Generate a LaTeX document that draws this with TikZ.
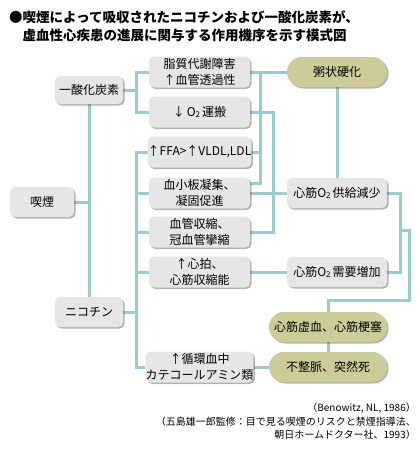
\documentclass[tikz,border=0pt]{standalone}
\usepackage{fontspec}
\setmainfont{Noto Sans CJK JP}
\usetikzlibrary{shadows,backgrounds}
\definecolor{boxgray}{RGB}{230,230,230}
\definecolor{boxolive}{RGB}{204,204,153}
\definecolor{linkteal}{RGB}{153,204,204}
\newcommand{\Otwo}{O\raisebox{-0.25ex}{\fontsize{8}{8}\selectfont 2}}
\tikzset{
  x=1pt,y=-1pt,
  boxbase/.style={rectangle, inner sep=0pt, align=center, font=\fontsize{12}{16}\selectfont,
    drop shadow={shadow xshift=1.5pt, shadow yshift=-1.5pt, opacity=0.3, fill=black}},
  gbox/.style={boxbase, fill=boxgray, rounded corners=5pt, minimum width=101pt, minimum height=31pt},
  sbox/.style={boxbase, fill=boxgray, rounded corners=5pt, minimum width=68pt, minimum height=28pt},
  rbox/.style={boxbase, fill=boxgray, rounded corners=5pt, minimum width=100pt, minimum height=30pt},
  obox/.style={boxbase, fill=boxolive, rounded corners=14.9pt, minimum width=100pt, minimum height=30pt},
  wobox/.style={obox, minimum width=118pt},
  link/.style={draw=linkteal, line width=3pt},
  cite/.style={anchor=east, inner sep=0pt, font=\fontsize{10}{12}\selectfont},
}
\begin{document}
\begin{tikzpicture}
\useasboundingbox (0,0) rectangle (420,450);
\node[anchor=west, inner sep=0pt, font=\fontsize{13.5}{16}\selectfont\bfseries] (t1) at (9,17) {●喫煙によって吸収されたニコチンおよび一酸化炭素が、};
\node[anchor=west, inner sep=0pt, font=\fontsize{13.5}{16}\selectfont\bfseries] (t2) at (22.5,35) {虚血性心疾患の進展に関与する作用機序を示す模式図};

\node[sbox] (co) at (89,90) {一酸化炭素};
\node[sbox, minimum width=64pt, minimum height=30pt] (smk) at (42,202) {喫煙};
\node[sbox, minimum height=30pt] (nic) at (89,312) {ニコチン};

\node[gbox] (lip) at (199.5,72) {脂質代謝障害\\↑血管透過性};
\node[gbox] (otr) at (199.5,112) {↓\,\Otwo\,運搬};
\node[gbox] (ffa) at (199.5,152) {↑FFA>↑VLDL,LDL};
\node[gbox] (plt) at (199.5,193) {血小板凝集、\\凝固促進};
\node[gbox] (vas) at (199.5,232) {血管収縮、\\冠血管攣縮};
\node[gbox] (hrt) at (199.5,272) {↑心拍、\\心筋収縮能};
\node[gbox] (cat) at (199.5,367) {↑循環血中\\カテコールアミン類};

\node[obox] (ath) at (337,72) {粥状硬化};
\node[rbox] (sup) at (337,193) {心筋\Otwo\,供給減少};
\node[rbox] (dem) at (337,272) {心筋\Otwo\,需要増加};
\node[wobox] (isc) at (328,327) {心筋虚血、心筋梗塞};
\node[wobox] (arr) at (328,367) {不整脈、突然死};

\node[cite] (c1) at (416,408) {（Benowitz, NL, 1986）};
\node[cite] (c2) at (416,422) {（五島雄一郎監修：目で見る喫煙のリスクと禁煙指導法、};
\node[cite] (c3) at (416,435) {朝日ホームドクター社、1993）};

\begin{scope}[on background layer]
\fill[white] (0,0) rectangle (420,450);
\coordinate (j1) at (136,90);
\coordinate (j2) at (136,312);
\coordinate (v1) at (260,183);
\coordinate (v2) at (273,232);
\coordinate (v3) at (400,230);
\coordinate (v4) at (409,300);
\draw[link] (co.east) -- (j1);
\draw[link] (lip.west) -| (j1) |- (otr.west);
\draw[link] (co.south) -- (nic.north);
\draw[link] (smk.east) -- (smk.east -| co.south);
\draw[link] (nic.east) -- (j2);
\draw[link] (ffa.west) -| (j2) |- (cat.west);
\draw[link] (plt.west) -- (plt.west -| j2);
\draw[link] (vas.west) -- (vas.west -| j2);
\draw[link] (hrt.west) -- (hrt.west -| j2);
\draw[link] (lip.east) -- (ath.west);
\draw[link] (v1 |- lip.east) -- (v1) -- (v1 -| plt.east);
\draw[link] (ffa.east) -- (ffa.east -| v1);
\draw[link] (otr.east) -| (v2) -- (vas.east);
\draw[link] (plt.east) -- (sup.west);
\draw[link] (ath.south) -- (sup.north);
\draw[link] (sup.east) -| (v3 |- dem.east) -- (dem.east);
\draw[link] (v3) -| (v4) -| (isc.north);
\draw[link] (isc.south) -- (arr.north);
\draw[link] (hrt.east) -- (dem.west);
\draw[link] (cat.east) -- (arr.west);
\end{scope}
\end{tikzpicture}
\end{document}
